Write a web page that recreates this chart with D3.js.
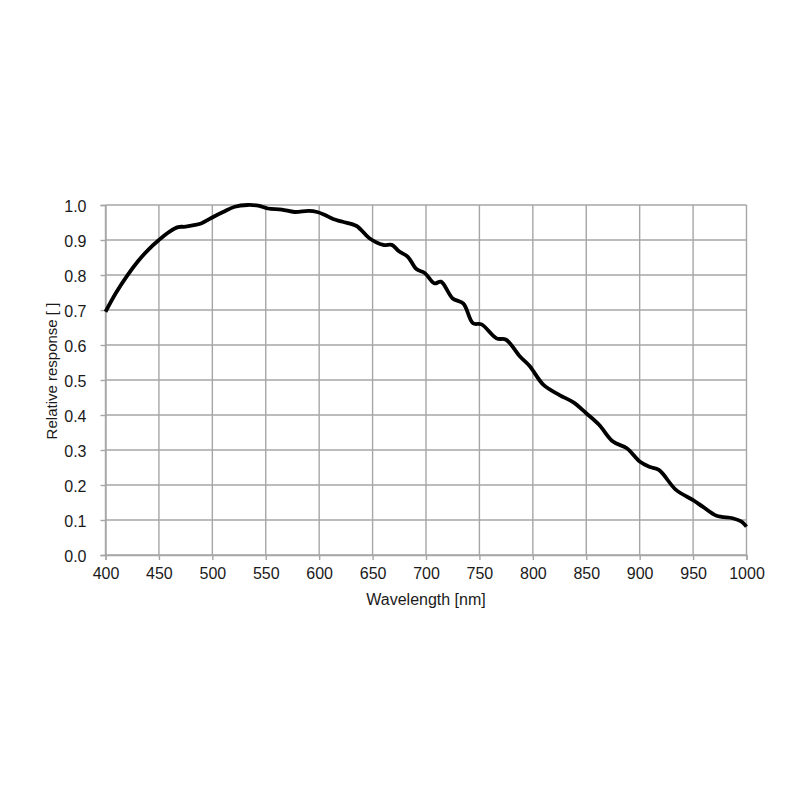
<!DOCTYPE html>
<html><head><meta charset="utf-8">
<script src="https://cdn.jsdelivr.net/npm/d3@7"></script>
<style>body{margin:0;background:#fff}svg{display:block}text{font-family:"Liberation Sans",Arial,sans-serif}</style>
</head><body>
<script>
const wavelengths = [400,410,420,430,440,450,460,468,475,484,490,499,510,521,533,543,552,565,577,590,598,605,613,622,635,647,660,668,675,683,691,699,708,714,725,735,744,752,766,775,788,797,810,825,838,850,862,875,888,900,909,918,934,950,959,972,987,995,1000];
const response = [0.695,0.75,0.797,0.838,0.872,0.90,0.924,0.937,0.938,0.943,0.948,0.963,0.98,0.995,1.0,0.998,0.99,0.987,0.98,0.983,0.98,0.972,0.96,0.952,0.94,0.905,0.886,0.886,0.867,0.852,0.817,0.805,0.776,0.781,0.733,0.718,0.662,0.659,0.619,0.615,0.567,0.54,0.486,0.457,0.436,0.405,0.372,0.324,0.305,0.267,0.252,0.243,0.186,0.157,0.138,0.112,0.105,0.096,0.081];
const xTicks = [400,450,500,550,600,650,700,750,800,850,900,950,1000];
const yTicks = [0.0,0.1,0.2,0.3,0.4,0.5,0.6,0.7,0.8,0.9,1.0];

const W=800,H=800;
const svg=d3.select("body").append("svg").attr("width",W).attr("height",H);
const x=d3.scaleLinear().domain([400,1000]).range([105.5,746.5]);
const y=d3.scaleLinear().domain([0,1]).range([555,205]);
const grid="#a6a6a6";

const g=svg.append("g");
g.selectAll(".vg").data(xTicks).join("line")
 .attr("x1",d=>x(d)).attr("x2",d=>x(d)).attr("y1",y(0)).attr("y2",y(1))
 .attr("stroke",grid).attr("stroke-width",1.4);
g.selectAll(".hg").data(yTicks).join("line")
 .attr("x1",x(400)).attr("x2",x(1000)).attr("y1",d=>y(d)).attr("y2",d=>y(d))
 .attr("stroke",grid).attr("stroke-width",1.4);

const xa=svg.append("g").attr("transform",`translate(0,${y(0)})`)
 .call(d3.axisBottom(x).tickValues(xTicks).tickSize(5).tickPadding(5).tickFormat(d3.format("d")));
const ya=svg.append("g").attr("transform",`translate(${x(400)},0)`)
 .call(d3.axisLeft(y).tickValues(yTicks).tickSize(5).tickPadding(14).tickFormat(d3.format(".1f")));
[xa,ya].forEach(a=>{
 a.selectAll("path,line").attr("stroke",grid).attr("stroke-width",1.4);
 a.selectAll("text").attr("font-size",16).attr("fill","#1a1a1a").attr("font-family","Liberation Sans, Arial, sans-serif");
});
xa.selectAll("text").attr("dy",null).attr("y",24);
ya.selectAll("text").attr("dy","0.4em");

const line=d3.line().x((d,i)=>x(wavelengths[i])).y(d=>y(d)).curve(d3.curveCatmullRom.alpha(0.5));
svg.append("path").datum(response).attr("d",line)
 .attr("fill","none").attr("stroke","#000").attr("stroke-width",3.8).attr("stroke-linejoin","round");

svg.append("text").attr("x",(x(400)+x(1000))/2).attr("y",605).attr("text-anchor","middle")
 .attr("font-size",16).attr("fill","#1a1a1a").text("Wavelength [nm]");
svg.append("text").attr("transform",`translate(57,371) rotate(-90)`).attr("text-anchor","middle")
 .attr("font-size",15).attr("fill","#1a1a1a").text("Relative response [ ]");
</script>
</body></html>
